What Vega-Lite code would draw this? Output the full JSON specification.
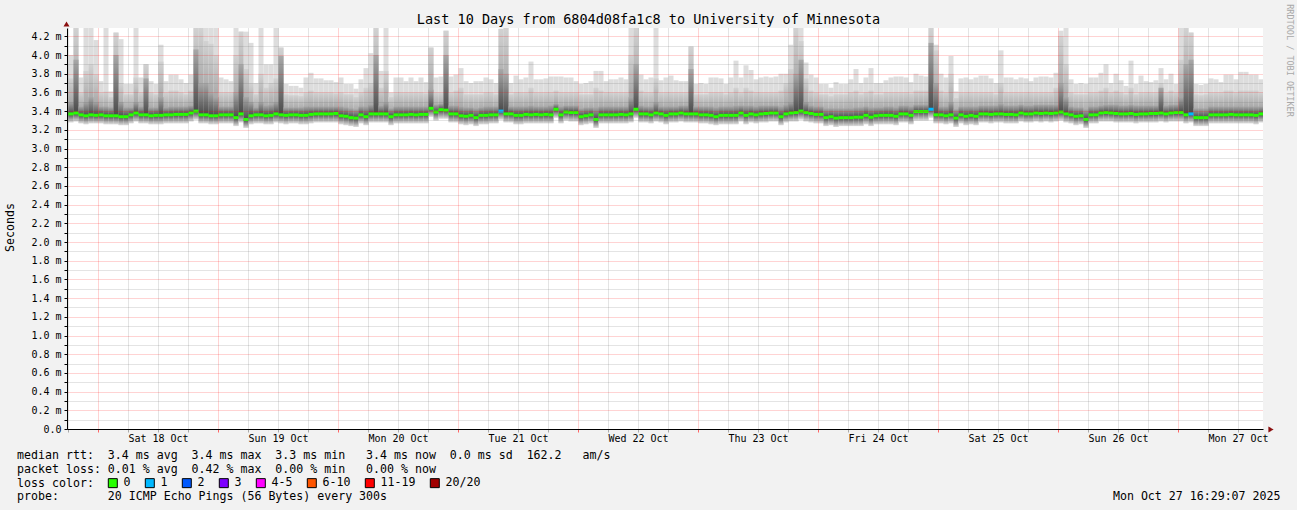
{
"$schema":"https://vega.github.io/schema/vega-lite/v6.json",
"width":1196,"height":401,
"autosize":{"type":"none"},
"padding":{"left":67,"top":28,"right":34,"bottom":81},
"background":"#f2f2f2",
"view":{"fill":"#ffffff","stroke":null},
"config":{"font":"DejaVu Sans Mono"},
"data":{"values":[
{"t":"2025-10-17T17:00","l":3.28,"m":3.37,"c":3.45,"b":3.6,"a":3.9,"k":"0"},
{"t":"2025-10-17T18:00","l":3.28,"m":3.37,"c":3.5,"b":3.75,"a":4.0,"k":"0"},
{"t":"2025-10-17T19:00","l":3.29,"m":3.38,"c":3.95,"b":4.29,"a":4.29,"k":"0"},
{"t":"2025-10-17T20:00","l":3.27,"m":3.36,"c":3.45,"b":3.6,"a":3.76,"k":"0"},
{"t":"2025-10-17T21:00","l":3.26,"m":3.35,"c":3.5,"b":3.83,"a":4.29,"k":"0"},
{"t":"2025-10-17T22:00","l":3.27,"m":3.36,"c":3.55,"b":3.9,"a":4.29,"k":"0"},
{"t":"2025-10-17T23:00","l":3.27,"m":3.355,"c":3.5,"b":3.79,"a":4.16,"k":"0"},
{"t":"2025-10-18T00:00","l":3.27,"m":3.36,"c":3.45,"b":3.6,"a":3.72,"k":"0"},
{"t":"2025-10-18T01:00","l":3.26,"m":3.35,"c":3.45,"b":3.61,"a":4.29,"k":"0"},
{"t":"2025-10-18T02:00","l":3.26,"m":3.35,"c":3.44,"b":3.55,"a":3.61,"k":"0"},
{"t":"2025-10-18T03:00","l":3.26,"m":3.35,"c":4.0,"b":4.24,"a":4.24,"k":"0"},
{"t":"2025-10-18T04:00","l":3.25,"m":3.34,"c":3.5,"b":3.7,"a":4.17,"k":"0"},
{"t":"2025-10-18T05:00","l":3.25,"m":3.34,"c":3.44,"b":3.58,"a":3.69,"k":"0"},
{"t":"2025-10-18T06:00","l":3.27,"m":3.36,"c":3.44,"b":3.58,"a":3.69,"k":"0"},
{"t":"2025-10-18T07:00","l":3.29,"m":3.38,"c":3.5,"b":3.76,"a":4.29,"k":"0"},
{"t":"2025-10-18T08:00","l":3.27,"m":3.36,"c":3.45,"b":3.6,"a":3.76,"k":"0"},
{"t":"2025-10-18T09:00","l":3.27,"m":3.36,"c":3.75,"b":3.9,"a":3.9,"k":"0"},
{"t":"2025-10-18T10:00","l":3.26,"m":3.35,"c":3.44,"b":3.6,"a":3.72,"k":"0"},
{"t":"2025-10-18T11:00","l":3.26,"m":3.355,"c":3.44,"b":3.58,"a":3.69,"k":"0"},
{"t":"2025-10-18T12:00","l":3.26,"m":3.355,"c":3.55,"b":3.93,"a":4.11,"k":"0"},
{"t":"2025-10-18T13:00","l":3.27,"m":3.36,"c":3.44,"b":3.6,"a":3.72,"k":"0"},
{"t":"2025-10-18T14:00","l":3.27,"m":3.36,"c":3.45,"b":3.62,"a":3.79,"k":"0"},
{"t":"2025-10-18T15:00","l":3.27,"m":3.365,"c":3.45,"b":3.62,"a":3.79,"k":"0"},
{"t":"2025-10-18T16:00","l":3.27,"m":3.365,"c":3.45,"b":3.6,"a":3.74,"k":"0"},
{"t":"2025-10-18T17:00","l":3.27,"m":3.365,"c":3.45,"b":3.58,"a":3.7,"k":"0"},
{"t":"2025-10-18T18:00","l":3.29,"m":3.38,"c":3.46,"b":3.62,"a":3.79,"k":"0"},
{"t":"2025-10-18T19:00","l":3.31,"m":3.4,"c":4.06,"b":4.29,"a":4.29,"k":"0"},
{"t":"2025-10-18T20:00","l":3.27,"m":3.36,"c":3.7,"b":4.29,"a":4.29,"k":"0"},
{"t":"2025-10-18T21:00","l":3.27,"m":3.36,"c":3.7,"b":4.15,"a":4.29,"k":"0"},
{"t":"2025-10-18T22:00","l":3.26,"m":3.35,"c":3.6,"b":4.12,"a":4.29,"k":"0"},
{"t":"2025-10-18T23:00","l":3.26,"m":3.35,"c":3.55,"b":4.0,"a":4.29,"k":"0"},
{"t":"2025-10-19T00:00","l":3.27,"m":3.36,"c":3.45,"b":3.6,"a":3.76,"k":"0"},
{"t":"2025-10-19T01:00","l":3.27,"m":3.36,"c":3.45,"b":3.6,"a":3.74,"k":"0"},
{"t":"2025-10-19T02:00","l":3.27,"m":3.36,"c":3.45,"b":3.6,"a":3.72,"k":"0"},
{"t":"2025-10-19T03:00","l":3.24,"m":3.33,"c":3.6,"b":4.0,"a":4.29,"k":"0"},
{"t":"2025-10-19T04:00","l":3.28,"m":3.37,"c":3.9,"b":4.25,"a":4.25,"k":"0"},
{"t":"2025-10-19T05:00","l":3.22,"m":3.31,"c":3.55,"b":3.85,"a":4.25,"k":"0"},
{"t":"2025-10-19T06:00","l":3.26,"m":3.35,"c":3.5,"b":3.7,"a":4.13,"k":"0"},
{"t":"2025-10-19T07:00","l":3.27,"m":3.36,"c":3.44,"b":3.58,"a":3.7,"k":"0"},
{"t":"2025-10-19T08:00","l":3.27,"m":3.36,"c":3.5,"b":3.8,"a":4.29,"k":"0"},
{"t":"2025-10-19T09:00","l":3.26,"m":3.35,"c":3.46,"b":3.65,"a":3.9,"k":"0"},
{"t":"2025-10-19T10:00","l":3.26,"m":3.355,"c":3.47,"b":3.7,"a":3.9,"k":"0"},
{"t":"2025-10-19T11:00","l":3.28,"m":3.37,"c":3.5,"b":3.75,"a":4.29,"k":"0"},
{"t":"2025-10-19T12:00","l":3.27,"m":3.36,"c":3.99,"b":4.08,"a":4.08,"k":"0"},
{"t":"2025-10-19T13:00","l":3.26,"m":3.355,"c":3.44,"b":3.58,"a":3.69,"k":"0"},
{"t":"2025-10-19T14:00","l":3.27,"m":3.36,"c":3.44,"b":3.57,"a":3.67,"k":"0"},
{"t":"2025-10-19T15:00","l":3.27,"m":3.36,"c":3.44,"b":3.57,"a":3.67,"k":"0"},
{"t":"2025-10-19T16:00","l":3.26,"m":3.355,"c":3.44,"b":3.56,"a":3.65,"k":"0"},
{"t":"2025-10-19T17:00","l":3.26,"m":3.355,"c":3.45,"b":3.6,"a":3.76,"k":"0"},
{"t":"2025-10-19T18:00","l":3.27,"m":3.365,"c":3.45,"b":3.62,"a":3.81,"k":"0"},
{"t":"2025-10-19T19:00","l":3.28,"m":3.37,"c":3.45,"b":3.6,"a":3.75,"k":"0"},
{"t":"2025-10-19T20:00","l":3.28,"m":3.37,"c":3.45,"b":3.6,"a":3.75,"k":"0"},
{"t":"2025-10-19T21:00","l":3.28,"m":3.37,"c":3.45,"b":3.6,"a":3.73,"k":"0"},
{"t":"2025-10-19T22:00","l":3.28,"m":3.37,"c":3.45,"b":3.6,"a":3.73,"k":"0"},
{"t":"2025-10-19T23:00","l":3.28,"m":3.375,"c":3.45,"b":3.59,"a":3.71,"k":"0"},
{"t":"2025-10-20T00:00","l":3.26,"m":3.35,"c":3.45,"b":3.6,"a":3.76,"k":"0"},
{"t":"2025-10-20T01:00","l":3.25,"m":3.345,"c":3.44,"b":3.58,"a":3.69,"k":"0"},
{"t":"2025-10-20T02:00","l":3.24,"m":3.33,"c":3.43,"b":3.58,"a":3.69,"k":"0"},
{"t":"2025-10-20T03:00","l":3.23,"m":3.325,"c":3.42,"b":3.55,"a":3.64,"k":"0"},
{"t":"2025-10-20T04:00","l":3.27,"m":3.36,"c":3.45,"b":3.6,"a":3.74,"k":"0"},
{"t":"2025-10-20T05:00","l":3.25,"m":3.34,"c":3.45,"b":3.65,"a":3.86,"k":"0"},
{"t":"2025-10-20T06:00","l":3.28,"m":3.37,"c":3.47,"b":3.7,"a":4.02,"k":"0"},
{"t":"2025-10-20T07:00","l":3.28,"m":3.37,"c":4.0,"b":4.29,"a":4.29,"k":"0"},
{"t":"2025-10-20T08:00","l":3.28,"m":3.37,"c":3.46,"b":3.65,"a":3.83,"k":"0"},
{"t":"2025-10-20T09:00","l":3.28,"m":3.37,"c":3.5,"b":3.83,"a":4.29,"k":"0"},
{"t":"2025-10-20T10:00","l":3.25,"m":3.34,"c":3.43,"b":3.55,"a":3.6,"k":"0"},
{"t":"2025-10-20T11:00","l":3.27,"m":3.36,"c":3.45,"b":3.6,"a":3.76,"k":"0"},
{"t":"2025-10-20T12:00","l":3.27,"m":3.36,"c":3.45,"b":3.6,"a":3.76,"k":"0"},
{"t":"2025-10-20T13:00","l":3.27,"m":3.36,"c":3.45,"b":3.6,"a":3.72,"k":"0"},
{"t":"2025-10-20T14:00","l":3.27,"m":3.365,"c":3.45,"b":3.6,"a":3.76,"k":"0"},
{"t":"2025-10-20T15:00","l":3.27,"m":3.36,"c":3.45,"b":3.6,"a":3.72,"k":"0"},
{"t":"2025-10-20T16:00","l":3.27,"m":3.365,"c":3.45,"b":3.6,"a":3.76,"k":"0"},
{"t":"2025-10-20T17:00","l":3.27,"m":3.365,"c":3.45,"b":3.59,"a":3.71,"k":"0"},
{"t":"2025-10-20T18:00","l":3.34,"m":3.43,"c":3.63,"b":4.08,"a":4.08,"k":"0"},
{"t":"2025-10-20T19:00","l":3.3,"m":3.39,"c":3.47,"b":3.6,"a":3.76,"k":"0"},
{"t":"2025-10-20T20:00","l":3.32,"m":3.415,"c":3.48,"b":3.6,"a":3.77,"k":"0"},
{"t":"2025-10-20T21:00","l":3.32,"m":3.41,"c":4.0,"b":4.26,"a":4.26,"k":"0"},
{"t":"2025-10-20T22:00","l":3.28,"m":3.37,"c":3.46,"b":3.6,"a":3.77,"k":"0"},
{"t":"2025-10-20T23:00","l":3.28,"m":3.37,"c":3.46,"b":3.62,"a":3.79,"k":"0"},
{"t":"2025-10-21T00:00","l":3.26,"m":3.35,"c":3.45,"b":3.65,"a":3.86,"k":"0"},
{"t":"2025-10-21T01:00","l":3.25,"m":3.345,"c":3.44,"b":3.58,"a":3.72,"k":"0"},
{"t":"2025-10-21T02:00","l":3.26,"m":3.355,"c":3.44,"b":3.58,"a":3.7,"k":"0"},
{"t":"2025-10-21T03:00","l":3.24,"m":3.33,"c":3.43,"b":3.58,"a":3.72,"k":"0"},
{"t":"2025-10-21T04:00","l":3.26,"m":3.355,"c":3.44,"b":3.58,"a":3.72,"k":"0"},
{"t":"2025-10-21T05:00","l":3.26,"m":3.355,"c":3.45,"b":3.6,"a":3.76,"k":"0"},
{"t":"2025-10-21T06:00","l":3.27,"m":3.36,"c":3.45,"b":3.6,"a":3.74,"k":"0"},
{"t":"2025-10-21T07:00","l":3.27,"m":3.36,"c":3.45,"b":3.58,"a":3.7,"k":"0"},
{"t":"2025-10-21T08:00","l":3.31,"m":3.4,"c":3.85,"b":4.28,"a":4.28,"k":"1"},
{"t":"2025-10-21T09:00","l":3.28,"m":3.37,"c":3.8,"b":4.29,"a":4.29,"k":"0"},
{"t":"2025-10-21T10:00","l":3.28,"m":3.37,"c":3.45,"b":3.58,"a":3.7,"k":"0"},
{"t":"2025-10-21T11:00","l":3.26,"m":3.355,"c":3.45,"b":3.6,"a":3.78,"k":"0"},
{"t":"2025-10-21T12:00","l":3.26,"m":3.355,"c":3.45,"b":3.6,"a":3.74,"k":"0"},
{"t":"2025-10-21T13:00","l":3.27,"m":3.365,"c":3.45,"b":3.6,"a":3.76,"k":"0"},
{"t":"2025-10-21T14:00","l":3.27,"m":3.36,"c":3.46,"b":3.65,"a":3.93,"k":"0"},
{"t":"2025-10-21T15:00","l":3.27,"m":3.365,"c":3.45,"b":3.6,"a":3.74,"k":"0"},
{"t":"2025-10-21T16:00","l":3.27,"m":3.36,"c":3.45,"b":3.6,"a":3.74,"k":"0"},
{"t":"2025-10-21T17:00","l":3.27,"m":3.365,"c":3.45,"b":3.6,"a":3.75,"k":"0"},
{"t":"2025-10-21T18:00","l":3.27,"m":3.36,"c":3.46,"b":3.6,"a":3.77,"k":"0"},
{"t":"2025-10-21T19:00","l":3.33,"m":3.42,"c":3.48,"b":3.62,"a":3.77,"k":"0"},
{"t":"2025-10-21T20:00","l":3.27,"m":3.36,"c":3.45,"b":3.6,"a":3.77,"k":"0"},
{"t":"2025-10-21T21:00","l":3.3,"m":3.39,"c":3.46,"b":3.6,"a":3.76,"k":"0"},
{"t":"2025-10-21T22:00","l":3.29,"m":3.385,"c":3.46,"b":3.6,"a":3.76,"k":"0"},
{"t":"2025-10-21T23:00","l":3.29,"m":3.385,"c":3.46,"b":3.6,"a":3.72,"k":"0"},
{"t":"2025-10-22T00:00","l":3.25,"m":3.34,"c":3.43,"b":3.58,"a":3.69,"k":"0"},
{"t":"2025-10-22T01:00","l":3.26,"m":3.35,"c":3.44,"b":3.58,"a":3.7,"k":"0"},
{"t":"2025-10-22T02:00","l":3.27,"m":3.36,"c":3.44,"b":3.58,"a":3.72,"k":"0"},
{"t":"2025-10-22T03:00","l":3.22,"m":3.31,"c":3.44,"b":3.65,"a":3.83,"k":"0"},
{"t":"2025-10-22T04:00","l":3.27,"m":3.36,"c":3.45,"b":3.62,"a":3.83,"k":"0"},
{"t":"2025-10-22T05:00","l":3.27,"m":3.36,"c":3.45,"b":3.6,"a":3.72,"k":"0"},
{"t":"2025-10-22T06:00","l":3.27,"m":3.36,"c":3.45,"b":3.6,"a":3.74,"k":"0"},
{"t":"2025-10-22T07:00","l":3.27,"m":3.36,"c":3.45,"b":3.6,"a":3.74,"k":"0"},
{"t":"2025-10-22T08:00","l":3.27,"m":3.365,"c":3.45,"b":3.6,"a":3.76,"k":"0"},
{"t":"2025-10-22T09:00","l":3.27,"m":3.36,"c":3.45,"b":3.6,"a":3.74,"k":"0"},
{"t":"2025-10-22T10:00","l":3.28,"m":3.37,"c":3.55,"b":4.0,"a":4.29,"k":"0"},
{"t":"2025-10-22T11:00","l":3.33,"m":3.42,"c":3.9,"b":4.29,"a":4.29,"k":"0"},
{"t":"2025-10-22T12:00","l":3.28,"m":3.37,"c":3.46,"b":3.62,"a":3.79,"k":"0"},
{"t":"2025-10-22T13:00","l":3.28,"m":3.37,"c":3.45,"b":3.6,"a":3.74,"k":"0"},
{"t":"2025-10-22T14:00","l":3.27,"m":3.36,"c":3.45,"b":3.6,"a":3.76,"k":"0"},
{"t":"2025-10-22T15:00","l":3.29,"m":3.38,"c":3.5,"b":3.75,"a":4.29,"k":"0"},
{"t":"2025-10-22T16:00","l":3.28,"m":3.37,"c":3.45,"b":3.6,"a":3.73,"k":"0"},
{"t":"2025-10-22T17:00","l":3.26,"m":3.355,"c":3.45,"b":3.6,"a":3.76,"k":"0"},
{"t":"2025-10-22T18:00","l":3.28,"m":3.37,"c":3.45,"b":3.6,"a":3.78,"k":"0"},
{"t":"2025-10-22T19:00","l":3.28,"m":3.37,"c":3.45,"b":3.6,"a":3.73,"k":"0"},
{"t":"2025-10-22T20:00","l":3.29,"m":3.38,"c":3.46,"b":3.6,"a":3.72,"k":"0"},
{"t":"2025-10-22T21:00","l":3.28,"m":3.37,"c":3.46,"b":3.6,"a":3.72,"k":"0"},
{"t":"2025-10-22T22:00","l":3.28,"m":3.37,"c":3.85,"b":4.09,"a":4.09,"k":"0"},
{"t":"2025-10-22T23:00","l":3.28,"m":3.37,"c":3.45,"b":3.58,"a":3.69,"k":"0"},
{"t":"2025-10-23T00:00","l":3.27,"m":3.36,"c":3.45,"b":3.58,"a":3.7,"k":"0"},
{"t":"2025-10-23T01:00","l":3.27,"m":3.36,"c":3.45,"b":3.58,"a":3.69,"k":"0"},
{"t":"2025-10-23T02:00","l":3.26,"m":3.355,"c":3.45,"b":3.6,"a":3.76,"k":"0"},
{"t":"2025-10-23T03:00","l":3.25,"m":3.34,"c":3.44,"b":3.6,"a":3.76,"k":"0"},
{"t":"2025-10-23T04:00","l":3.26,"m":3.355,"c":3.45,"b":3.6,"a":3.75,"k":"0"},
{"t":"2025-10-23T05:00","l":3.26,"m":3.355,"c":3.45,"b":3.58,"a":3.69,"k":"0"},
{"t":"2025-10-23T06:00","l":3.26,"m":3.355,"c":3.45,"b":3.6,"a":3.76,"k":"0"},
{"t":"2025-10-23T07:00","l":3.26,"m":3.355,"c":3.46,"b":3.65,"a":3.94,"k":"0"},
{"t":"2025-10-23T08:00","l":3.29,"m":3.38,"c":3.46,"b":3.6,"a":3.76,"k":"0"},
{"t":"2025-10-23T09:00","l":3.26,"m":3.355,"c":3.46,"b":3.65,"a":3.89,"k":"0"},
{"t":"2025-10-23T10:00","l":3.28,"m":3.37,"c":3.46,"b":3.62,"a":3.84,"k":"0"},
{"t":"2025-10-23T11:00","l":3.27,"m":3.36,"c":3.45,"b":3.6,"a":3.74,"k":"0"},
{"t":"2025-10-23T12:00","l":3.28,"m":3.37,"c":3.46,"b":3.6,"a":3.76,"k":"0"},
{"t":"2025-10-23T13:00","l":3.28,"m":3.375,"c":3.46,"b":3.6,"a":3.77,"k":"0"},
{"t":"2025-10-23T14:00","l":3.29,"m":3.38,"c":3.46,"b":3.6,"a":3.76,"k":"0"},
{"t":"2025-10-23T15:00","l":3.29,"m":3.38,"c":3.46,"b":3.6,"a":3.77,"k":"0"},
{"t":"2025-10-23T16:00","l":3.25,"m":3.34,"c":3.45,"b":3.62,"a":3.8,"k":"0"},
{"t":"2025-10-23T17:00","l":3.28,"m":3.37,"c":3.47,"b":3.7,"a":3.8,"k":"0"},
{"t":"2025-10-23T18:00","l":3.29,"m":3.38,"c":3.5,"b":3.85,"a":4.11,"k":"0"},
{"t":"2025-10-23T19:00","l":3.29,"m":3.385,"c":3.8,"b":4.29,"a":4.29,"k":"0"},
{"t":"2025-10-23T20:00","l":3.31,"m":3.4,"c":3.95,"b":4.15,"a":4.29,"k":"0"},
{"t":"2025-10-23T21:00","l":3.29,"m":3.385,"c":3.5,"b":3.75,"a":3.92,"k":"0"},
{"t":"2025-10-23T22:00","l":3.28,"m":3.375,"c":3.46,"b":3.62,"a":3.79,"k":"0"},
{"t":"2025-10-23T23:00","l":3.27,"m":3.365,"c":3.45,"b":3.6,"a":3.76,"k":"0"},
{"t":"2025-10-24T00:00","l":3.27,"m":3.365,"c":3.45,"b":3.58,"a":3.69,"k":"0"},
{"t":"2025-10-24T01:00","l":3.24,"m":3.33,"c":3.43,"b":3.58,"a":3.69,"k":"0"},
{"t":"2025-10-24T02:00","l":3.25,"m":3.34,"c":3.43,"b":3.56,"a":3.65,"k":"0"},
{"t":"2025-10-24T03:00","l":3.23,"m":3.325,"c":3.43,"b":3.58,"a":3.71,"k":"0"},
{"t":"2025-10-24T04:00","l":3.24,"m":3.33,"c":3.43,"b":3.58,"a":3.69,"k":"0"},
{"t":"2025-10-24T05:00","l":3.24,"m":3.33,"c":3.43,"b":3.58,"a":3.69,"k":"0"},
{"t":"2025-10-24T06:00","l":3.24,"m":3.33,"c":3.43,"b":3.6,"a":3.74,"k":"0"},
{"t":"2025-10-24T07:00","l":3.24,"m":3.335,"c":3.44,"b":3.62,"a":3.85,"k":"0"},
{"t":"2025-10-24T08:00","l":3.24,"m":3.335,"c":3.44,"b":3.58,"a":3.7,"k":"0"},
{"t":"2025-10-24T09:00","l":3.26,"m":3.355,"c":3.45,"b":3.6,"a":3.76,"k":"0"},
{"t":"2025-10-24T10:00","l":3.24,"m":3.335,"c":3.44,"b":3.62,"a":3.86,"k":"0"},
{"t":"2025-10-24T11:00","l":3.26,"m":3.35,"c":3.44,"b":3.58,"a":3.7,"k":"0"},
{"t":"2025-10-24T12:00","l":3.26,"m":3.355,"c":3.44,"b":3.58,"a":3.7,"k":"0"},
{"t":"2025-10-24T13:00","l":3.26,"m":3.355,"c":3.45,"b":3.6,"a":3.73,"k":"0"},
{"t":"2025-10-24T14:00","l":3.26,"m":3.355,"c":3.45,"b":3.6,"a":3.76,"k":"0"},
{"t":"2025-10-24T15:00","l":3.25,"m":3.345,"c":3.44,"b":3.6,"a":3.77,"k":"0"},
{"t":"2025-10-24T16:00","l":3.28,"m":3.37,"c":3.46,"b":3.6,"a":3.77,"k":"0"},
{"t":"2025-10-24T17:00","l":3.28,"m":3.37,"c":3.46,"b":3.6,"a":3.76,"k":"0"},
{"t":"2025-10-24T18:00","l":3.26,"m":3.355,"c":3.45,"b":3.59,"a":3.71,"k":"0"},
{"t":"2025-10-24T19:00","l":3.3,"m":3.395,"c":3.47,"b":3.62,"a":3.8,"k":"0"},
{"t":"2025-10-24T20:00","l":3.3,"m":3.395,"c":3.47,"b":3.62,"a":3.78,"k":"0"},
{"t":"2025-10-24T21:00","l":3.3,"m":3.395,"c":3.47,"b":3.62,"a":3.77,"k":"0"},
{"t":"2025-10-24T22:00","l":3.33,"m":3.42,"c":4.13,"b":4.29,"a":4.29,"k":"1"},
{"t":"2025-10-24T23:00","l":3.27,"m":3.36,"c":3.7,"b":4.05,"a":4.11,"k":"0"},
{"t":"2025-10-25T00:00","l":3.27,"m":3.36,"c":3.45,"b":3.62,"a":3.8,"k":"0"},
{"t":"2025-10-25T01:00","l":3.26,"m":3.35,"c":3.45,"b":3.6,"a":3.76,"k":"0"},
{"t":"2025-10-25T02:00","l":3.27,"m":3.36,"c":3.5,"b":3.8,"a":3.99,"k":"0"},
{"t":"2025-10-25T03:00","l":3.23,"m":3.325,"c":3.42,"b":3.54,"a":3.61,"k":"0"},
{"t":"2025-10-25T04:00","l":3.27,"m":3.36,"c":3.45,"b":3.6,"a":3.75,"k":"0"},
{"t":"2025-10-25T05:00","l":3.25,"m":3.345,"c":3.45,"b":3.6,"a":3.76,"k":"0"},
{"t":"2025-10-25T06:00","l":3.26,"m":3.355,"c":3.45,"b":3.6,"a":3.74,"k":"0"},
{"t":"2025-10-25T07:00","l":3.25,"m":3.345,"c":3.45,"b":3.6,"a":3.76,"k":"0"},
{"t":"2025-10-25T08:00","l":3.28,"m":3.37,"c":3.46,"b":3.6,"a":3.78,"k":"0"},
{"t":"2025-10-25T09:00","l":3.28,"m":3.37,"c":3.46,"b":3.6,"a":3.78,"k":"0"},
{"t":"2025-10-25T10:00","l":3.27,"m":3.365,"c":3.46,"b":3.6,"a":3.75,"k":"0"},
{"t":"2025-10-25T11:00","l":3.28,"m":3.37,"c":3.46,"b":3.58,"a":3.7,"k":"0"},
{"t":"2025-10-25T12:00","l":3.28,"m":3.37,"c":3.48,"b":3.7,"a":4.05,"k":"0"},
{"t":"2025-10-25T13:00","l":3.27,"m":3.365,"c":3.46,"b":3.6,"a":3.76,"k":"0"},
{"t":"2025-10-25T14:00","l":3.27,"m":3.365,"c":3.46,"b":3.6,"a":3.76,"k":"0"},
{"t":"2025-10-25T15:00","l":3.27,"m":3.36,"c":3.46,"b":3.6,"a":3.74,"k":"0"},
{"t":"2025-10-25T16:00","l":3.29,"m":3.38,"c":3.47,"b":3.6,"a":3.76,"k":"0"},
{"t":"2025-10-25T17:00","l":3.28,"m":3.37,"c":3.46,"b":3.6,"a":3.75,"k":"0"},
{"t":"2025-10-25T18:00","l":3.28,"m":3.37,"c":3.46,"b":3.6,"a":3.72,"k":"0"},
{"t":"2025-10-25T19:00","l":3.29,"m":3.38,"c":3.47,"b":3.6,"a":3.76,"k":"0"},
{"t":"2025-10-25T20:00","l":3.28,"m":3.375,"c":3.47,"b":3.6,"a":3.77,"k":"0"},
{"t":"2025-10-25T21:00","l":3.29,"m":3.38,"c":3.47,"b":3.6,"a":3.77,"k":"0"},
{"t":"2025-10-25T22:00","l":3.28,"m":3.375,"c":3.47,"b":3.6,"a":3.76,"k":"0"},
{"t":"2025-10-25T23:00","l":3.29,"m":3.38,"c":3.47,"b":3.65,"a":3.81,"k":"0"},
{"t":"2025-10-26T00:00","l":3.3,"m":3.39,"c":3.7,"b":4.2,"a":4.26,"k":"0"},
{"t":"2025-10-26T01:00","l":3.28,"m":3.37,"c":3.55,"b":3.9,"a":4.29,"k":"0"},
{"t":"2025-10-26T02:00","l":3.27,"m":3.36,"c":3.45,"b":3.6,"a":3.74,"k":"0"},
{"t":"2025-10-26T03:00","l":3.25,"m":3.345,"c":3.44,"b":3.58,"a":3.69,"k":"0"},
{"t":"2025-10-26T04:00","l":3.26,"m":3.35,"c":3.44,"b":3.58,"a":3.7,"k":"0"},
{"t":"2025-10-26T05:00","l":3.22,"m":3.31,"c":3.42,"b":3.58,"a":3.69,"k":"0"},
{"t":"2025-10-26T06:00","l":3.27,"m":3.36,"c":3.45,"b":3.6,"a":3.76,"k":"0"},
{"t":"2025-10-26T07:00","l":3.27,"m":3.36,"c":3.45,"b":3.6,"a":3.76,"k":"0"},
{"t":"2025-10-26T08:00","l":3.29,"m":3.38,"c":3.46,"b":3.62,"a":3.81,"k":"0"},
{"t":"2025-10-26T09:00","l":3.29,"m":3.385,"c":3.47,"b":3.65,"a":3.9,"k":"0"},
{"t":"2025-10-26T10:00","l":3.29,"m":3.38,"c":3.47,"b":3.6,"a":3.7,"k":"0"},
{"t":"2025-10-26T11:00","l":3.28,"m":3.375,"c":3.47,"b":3.62,"a":3.8,"k":"0"},
{"t":"2025-10-26T12:00","l":3.28,"m":3.37,"c":3.46,"b":3.6,"a":3.73,"k":"0"},
{"t":"2025-10-26T13:00","l":3.28,"m":3.37,"c":3.46,"b":3.58,"a":3.67,"k":"0"},
{"t":"2025-10-26T14:00","l":3.28,"m":3.375,"c":3.47,"b":3.65,"a":3.94,"k":"0"},
{"t":"2025-10-26T15:00","l":3.27,"m":3.365,"c":3.46,"b":3.58,"a":3.69,"k":"0"},
{"t":"2025-10-26T16:00","l":3.28,"m":3.37,"c":3.46,"b":3.6,"a":3.78,"k":"0"},
{"t":"2025-10-26T17:00","l":3.28,"m":3.37,"c":3.46,"b":3.6,"a":3.72,"k":"0"},
{"t":"2025-10-26T18:00","l":3.28,"m":3.375,"c":3.46,"b":3.6,"a":3.71,"k":"0"},
{"t":"2025-10-26T19:00","l":3.28,"m":3.375,"c":3.46,"b":3.6,"a":3.73,"k":"0"},
{"t":"2025-10-26T20:00","l":3.29,"m":3.38,"c":3.65,"b":3.7,"a":3.86,"k":"0"},
{"t":"2025-10-26T21:00","l":3.28,"m":3.37,"c":3.46,"b":3.6,"a":3.74,"k":"0"},
{"t":"2025-10-26T22:00","l":3.29,"m":3.38,"c":3.47,"b":3.62,"a":3.8,"k":"0"},
{"t":"2025-10-26T23:00","l":3.29,"m":3.385,"c":3.47,"b":3.6,"a":3.69,"k":"0"},
{"t":"2025-10-27T00:00","l":3.29,"m":3.385,"c":3.55,"b":3.95,"a":4.29,"k":"0"},
{"t":"2025-10-27T01:00","l":3.27,"m":3.36,"c":3.9,"b":4.29,"a":4.29,"k":"0"},
{"t":"2025-10-27T02:00","l":3.28,"m":3.37,"c":3.95,"b":4.24,"a":4.24,"k":"1"},
{"t":"2025-10-27T03:00","l":3.24,"m":3.33,"c":3.43,"b":3.58,"a":3.69,"k":"0"},
{"t":"2025-10-27T04:00","l":3.24,"m":3.33,"c":3.43,"b":3.57,"a":3.68,"k":"0"},
{"t":"2025-10-27T05:00","l":3.24,"m":3.33,"c":3.43,"b":3.58,"a":3.69,"k":"0"},
{"t":"2025-10-27T06:00","l":3.27,"m":3.36,"c":3.45,"b":3.6,"a":3.75,"k":"0"},
{"t":"2025-10-27T07:00","l":3.27,"m":3.36,"c":3.45,"b":3.6,"a":3.74,"k":"0"},
{"t":"2025-10-27T08:00","l":3.27,"m":3.36,"c":3.45,"b":3.6,"a":3.71,"k":"0"},
{"t":"2025-10-27T09:00","l":3.27,"m":3.36,"c":3.45,"b":3.62,"a":3.79,"k":"0"},
{"t":"2025-10-27T10:00","l":3.27,"m":3.365,"c":3.45,"b":3.62,"a":3.79,"k":"0"},
{"t":"2025-10-27T11:00","l":3.27,"m":3.36,"c":3.45,"b":3.6,"a":3.74,"k":"0"},
{"t":"2025-10-27T12:00","l":3.27,"m":3.36,"c":3.45,"b":3.62,"a":3.82,"k":"0"},
{"t":"2025-10-27T13:00","l":3.27,"m":3.36,"c":3.45,"b":3.62,"a":3.82,"k":"0"},
{"t":"2025-10-27T14:00","l":3.27,"m":3.36,"c":3.45,"b":3.62,"a":3.79,"k":"0"},
{"t":"2025-10-27T15:00","l":3.26,"m":3.355,"c":3.45,"b":3.62,"a":3.79,"k":"0"},
{"t":"2025-10-27T16:00","l":3.28,"m":3.37,"c":3.45,"b":3.6,"a":3.74,"k":"0"}
]},
"resolve":{"axis":{"x":"independent","y":"independent"}},
"layer":[
{"mark":{"type":"bar","fill":"#dddddd","clip":true,"binSpacing":0},
 "encoding":{
  "x":{"field":"t","type":"temporal","timeUnit":"yearmonthdatehours",
   "scale":{"domain":[{"year":2025,"month":10,"date":17,"hours":17,"minutes":48},{"year":2025,"month":10,"date":27,"hours":17}],"nice":false},
   "axis":{"orient":"bottom","zindex":1,
    "values":[{"year":2025,"month":10,"date":17,"hours":18},
{"year":2025,"month":10,"date":18,"hours":0},{"year":2025,"month":10,"date":18,"hours":6},{"year":2025,"month":10,"date":18,"hours":12},{"year":2025,"month":10,"date":18,"hours":18},
{"year":2025,"month":10,"date":19,"hours":0},{"year":2025,"month":10,"date":19,"hours":6},{"year":2025,"month":10,"date":19,"hours":12},{"year":2025,"month":10,"date":19,"hours":18},
{"year":2025,"month":10,"date":20,"hours":0},{"year":2025,"month":10,"date":20,"hours":6},{"year":2025,"month":10,"date":20,"hours":12},{"year":2025,"month":10,"date":20,"hours":18},
{"year":2025,"month":10,"date":21,"hours":0},{"year":2025,"month":10,"date":21,"hours":6},{"year":2025,"month":10,"date":21,"hours":12},{"year":2025,"month":10,"date":21,"hours":18},
{"year":2025,"month":10,"date":22,"hours":0},{"year":2025,"month":10,"date":22,"hours":6},{"year":2025,"month":10,"date":22,"hours":12},{"year":2025,"month":10,"date":22,"hours":18},
{"year":2025,"month":10,"date":23,"hours":0},{"year":2025,"month":10,"date":23,"hours":6},{"year":2025,"month":10,"date":23,"hours":12},{"year":2025,"month":10,"date":23,"hours":18},
{"year":2025,"month":10,"date":24,"hours":0},{"year":2025,"month":10,"date":24,"hours":6},{"year":2025,"month":10,"date":24,"hours":12},{"year":2025,"month":10,"date":24,"hours":18},
{"year":2025,"month":10,"date":25,"hours":0},{"year":2025,"month":10,"date":25,"hours":6},{"year":2025,"month":10,"date":25,"hours":12},{"year":2025,"month":10,"date":25,"hours":18},
{"year":2025,"month":10,"date":26,"hours":0},{"year":2025,"month":10,"date":26,"hours":6},{"year":2025,"month":10,"date":26,"hours":12},{"year":2025,"month":10,"date":26,"hours":18},
{"year":2025,"month":10,"date":27,"hours":0},{"year":2025,"month":10,"date":27,"hours":6},{"year":2025,"month":10,"date":27,"hours":12}],
    "grid":true,"gridDash":[1,1],"gridWidth":1,"gridOpacity":0.35,
    "gridColor":{"condition":{"test":"hours(datum.value)===0","value":"#ff0000"},"value":"#606060"},
    "ticks":true,"tickSize":3,
    "tickColor":{"condition":{"test":"hours(datum.value)===0","value":"#ff6666"},"value":"#aaaaaa"},
    "domainColor":"#000000","domainWidth":1,
    "labelExpr":"hours(datum.value)===12 ? timeFormat(datum.value,'%a %d %b') : ''",
    "labelFont":"DejaVu Sans Mono","labelFontSize":10,"labelColor":"#000000","labelPadding":1,"labelOverlap":false,"labelFlush":false,"labelBound":false,
    "title":["median rtt:\u00a0\u00a03.4 ms avg\u00a0\u00a03.4 ms max\u00a0\u00a03.3 ms min\u00a0\u00a0\u00a03.4 ms now\u00a0\u00a00.0 ms sd\u00a0\u00a0162.2\u00a0\u00a0\u00a0am/s",
             "packet loss:\u00a00.01 % avg\u00a0\u00a00.42 % max\u00a0\u00a00.00 % min\u00a0\u00a0\u00a00.00 % now",
             "loss color:",
             "probe:\u00a0\u00a0\u00a0\u00a0\u00a0\u00a0\u00a020 ICMP Echo Pings (56 Bytes) every 300s\u00a0\u00a0\u00a0\u00a0\u00a0\u00a0\u00a0\u00a0\u00a0\u00a0\u00a0\u00a0\u00a0\u00a0\u00a0\u00a0\u00a0\u00a0\u00a0\u00a0\u00a0\u00a0\u00a0\u00a0\u00a0\u00a0\u00a0\u00a0\u00a0\u00a0\u00a0\u00a0\u00a0\u00a0\u00a0\u00a0\u00a0\u00a0\u00a0\u00a0\u00a0\u00a0\u00a0\u00a0\u00a0\u00a0\u00a0\u00a0\u00a0\u00a0\u00a0\u00a0\u00a0\u00a0\u00a0\u00a0\u00a0\u00a0\u00a0\u00a0\u00a0\u00a0\u00a0\u00a0\u00a0\u00a0\u00a0\u00a0\u00a0\u00a0\u00a0\u00a0\u00a0\u00a0\u00a0\u00a0\u00a0\u00a0\u00a0\u00a0\u00a0\u00a0\u00a0\u00a0\u00a0\u00a0\u00a0\u00a0\u00a0\u00a0\u00a0\u00a0\u00a0\u00a0\u00a0\u00a0\u00a0\u00a0\u00a0\u00a0\u00a0\u00a0\u00a0\u00a0Mon Oct 27 16:29:07 2025"],
    "titleFont":"DejaVu Sans Mono","titleFontSize":11.6,"titleFontWeight":"normal","titleColor":"#000000",
    "titleAlign":"left","titleAnchor":"start","titleX":-50.4,"titleY":29.3,"titleBaseline":"alphabetic","titleLineHeight":13.9}},
  "y":{"field":"l","type":"quantitative","scale":{"domain":[0,4.289],"nice":false,"zero":true},
   "axis":{"orient":"left","zindex":1,
    "values":[0,0.1,0.2,0.3,0.4,0.5,0.6,0.7,0.8,0.9,1,1.1,1.2,1.3,1.4,1.5,1.6,1.7,1.8,1.9,2,2.1,2.2,2.3,2.4,2.5,2.6,2.7,2.8,2.9,3,3.1,3.2,3.3,3.4,3.5,3.6,3.7,3.8,3.9,4,4.1,4.2],
    "grid":true,"gridDash":[1,1],"gridWidth":1,"gridOpacity":0.35,
    "gridColor":{"condition":{"test":"round(datum.value*10)%2===0","value":"#ff0000"},"value":"#606060"},
    "tickSize":3,"tickColor":"#000000","domainColor":"#000000",
    "labelExpr":"round(datum.value*10)%2===0 ? (datum.value===0 ? '0.0' : format(datum.value,'.1f') + ' m') : ''",
    "labelFont":"DejaVu Sans Mono","labelFontSize":10,"labelColor":"#000000","labelPadding":3,"labelOverlap":false,"labelFlush":false,
    "title":"Seconds","titleFont":"DejaVu Sans Mono","titleFontSize":11.6,"titleFontWeight":"normal","titleColor":"#000000",
    "titleAngle":270,"titleX":-57,"titleY":199,"titleAlign":"center","titleBaseline":"middle"}},
  "y2":{"field":"a"}}},
{"mark":{"type":"bar","clip":true,"binSpacing":0,"fill":{"gradient":"linear","x1":0,"y1":0,"x2":0,"y2":1,"stops":[{"offset":0,"color":"#d2d2d2"},{"offset":1,"color":"#959595"}]}},
 "encoding":{
  "x":{"field":"t","type":"temporal","timeUnit":"yearmonthdatehours","axis":null},
  "y":{"field":"m","type":"quantitative","axis":null},
  "y2":{"field":"b"}}},
{"mark":{"type":"bar","clip":true,"binSpacing":0,"fill":{"gradient":"linear","x1":0,"y1":0,"x2":0,"y2":1,"stops":[{"offset":0,"color":"#a8a8a8"},{"offset":1,"color":"#4a4a4a"}]}},
 "encoding":{
  "x":{"field":"t","type":"temporal","timeUnit":"yearmonthdatehours","axis":null},
  "y":{"field":"m","type":"quantitative","axis":null},
  "y2":{"field":"c"}}},
{"mark":{"type":"bar","clip":true,"binSpacing":0,"fill":{"gradient":"linear","x1":0,"y1":0,"x2":0,"y2":1,"stops":[{"offset":0,"color":"#484848"},{"offset":1,"color":"#dcdcdc"}]}},
 "encoding":{
  "x":{"field":"t","type":"temporal","timeUnit":"yearmonthdatehours","axis":null},
  "y":{"field":"l","type":"quantitative","axis":null},
  "y2":{"field":"m"}}},
{"mark":{"type":"bar","clip":true,"binSpacing":0,"yOffset":-1.5,"y2Offset":1.5},
 "encoding":{
  "x":{"field":"t","type":"temporal","timeUnit":"yearmonthdatehours",
   "axis":{"orient":"top","labels":false,"ticks":false,"domain":false,"grid":false,
    "title":"Last 10 Days from 6804d08fa1c8 to University of Minnesota",
    "titleFont":"DejaVu Sans Mono","titleFontSize":13.5,"titleFontWeight":"normal","titleColor":"#000000",
    "titleX":581,"titleY":-9,"titleAlign":"center","titleBaseline":"middle"}},
  "y":{"field":"m","type":"quantitative",
   "axis":{"orient":"right","labels":false,"ticks":false,"domain":false,"grid":false,
    "title":"RRDTOOL / TOBI OETIKER","titleFont":"DejaVu Sans Mono","titleFontSize":8.5,"titleFontWeight":"normal","titleColor":"#a8a8a8",
    "titleAngle":90,"titleX":26,"titleY":32,"titleAlign":"center","titleBaseline":"middle"}},
  "y2":{"field":"m"},
  "color":{"field":"k","type":"nominal",
   "scale":{"domain":["0","1","2","3","4-5","6-10","11-19","20/20"],"range":["#26ff00","#00b8ff","#0059ff","#7e00ff","#ff00ff","#ff5500","#ff0000","#a10000"]},
   "legend":{"orient":"none","legendX":40,"legendY":449,"direction":"horizontal","columns":8,"title":null,
    "symbolType":"square","symbolSize":81,"symbolStrokeColor":"#000000","symbolStrokeWidth":1,"symbolOpacity":1,
    "labelFont":"DejaVu Sans Mono","labelFontSize":11.6,"labelColor":"#000000","labelOffset":5,"columnPadding":12,"padding":0}}}},
{"data":{"values":[{"end":"y"}]},
 "mark":{"type":"point","shape":"triangle-up","filled":true,"size":36,"color":"#8b1010","opacity":1,"clip":false,"yOffset":-4,"xOffset":-0.5},
 "encoding":{
  "x":{"datum":{"year":2025,"month":10,"date":17,"hours":17,"minutes":48},"type":"temporal","axis":null},
  "y":{"datum":4.289,"type":"quantitative","axis":null}}},
{"data":{"values":[{"end":"x"}]},
 "mark":{"type":"point","shape":"triangle-right","filled":true,"size":36,"color":"#8b1010","opacity":1,"clip":false,"xOffset":8,"yOffset":0.5},
 "encoding":{
  "x":{"datum":{"year":2025,"month":10,"date":27,"hours":17},"type":"temporal","axis":null},
  "y":{"datum":0,"type":"quantitative","axis":null}}}
]
}
